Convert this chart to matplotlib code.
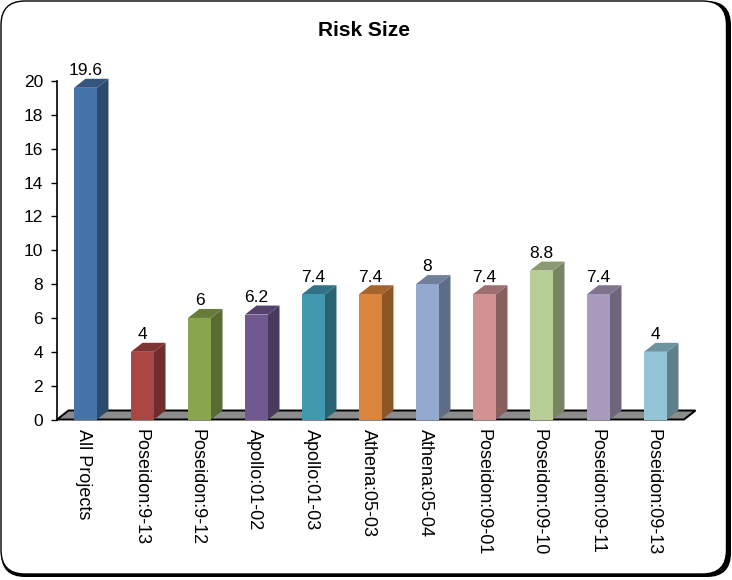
import matplotlib
matplotlib.use("Agg")
import matplotlib.pyplot as plt
from matplotlib.patches import FancyBboxPatch, Polygon
from matplotlib.transforms import ScaledTranslation

plt.rcParams['font.family'] = ['Liberation Sans', 'DejaVu Sans']

categories = ["All Projects", "Poseidon:9-13", "Poseidon:9-12", "Apollo:01-02", "Apollo:01-03",
              "Athena:05-03", "Athena:05-04", "Poseidon:09-01", "Poseidon:09-10", "Poseidon:09-11",
              "Poseidon:09-13"]
values = [19.6, 4, 6, 6.2, 7.4, 7.4, 8, 7.4, 8.8, 7.4, 4]
value_labels = ["19.6", "4", "6", "6.2", "7.4", "7.4", "8", "7.4", "8.8", "7.4", "4"]
front_colors = ["#4572A7", "#AA4643", "#89A54E", "#71588F", "#4198AF", "#DB843D",
                "#93A9CF", "#D19392", "#B9CD96", "#A99BBD", "#92C5D5"]
side_colors = ["#2C4A6E", "#6F2D2B", "#596B32", "#49395D", "#2A6372", "#8E5627",
               "#5F6E87", "#885F5F", "#788562", "#6E657B", "#5F808B"]
top_colors = ["#35557F", "#803533", "#677C3B", "#55426C", "#317284", "#A5632E",
              "#6F7F9C", "#9E6F6E", "#8B9A71", "#7F748E", "#6E94A0"]
yticks = list(range(0, 21, 2))

W, H = 732, 580
fig = plt.figure(figsize=(W / 100, H / 100), dpi=100, facecolor="white")

# rounded frame with heavy lower-right shadow
bg = fig.add_axes([0, 0, 1, 1], zorder=0)
bg.set_xlim(0, W); bg.set_ylim(H, 0); bg.axis("off")
R = 24
bg.add_patch(FancyBboxPatch((1 + R, 1 + R), W - 2 - 2 * R, H - 4 - 2 * R,
                            boxstyle=f"round,pad={R},rounding_size={R}",
                            fc="black", ec="black", lw=0))
bg.add_patch(FancyBboxPatch((1 + R, 1 + R), W - 6.5 - 2 * R, H - 7 - 2 * R,
                            boxstyle=f"round,pad={R},rounding_size={R}",
                            fc="white", ec="black", lw=1.0))

# plot area: 57..684 px wide, 81..419.5 px tall
left, right, top, bottom = 57, 684, 81, 419.5
ax = fig.add_axes([left / W, 1 - bottom / H, (right - left) / W, (bottom - top) / H], zorder=1)
ax.set_xlim(-0.5, 10.5)
ax.set_ylim(0, 20)
ax.patch.set_alpha(0)

dx = 11.5 / 57          # depth, category units
dy = 9 / ((bottom - top) / 20)  # depth, value units
half = 11.5 / 57

# floor
ax.add_patch(Polygon([(-0.5, 0), (10.5, 0), (10.5 + dx, dy), (-0.5 + dx, dy)],
                     closed=True, fc="#8C8C8C", ec="black", lw=1.4, clip_on=False, zorder=1))

for i, (v, lab) in enumerate(zip(values, value_labels)):
    x0, x1 = i - half, i + half
    ax.bar(i, v, width=2 * half, color=front_colors[i], edgecolor="none", zorder=3, clip_on=False)
    ax.add_patch(Polygon([(x1, 0), (x1 + dx, dy), (x1 + dx, v + dy), (x1, v)], closed=True,
                         fc=side_colors[i], ec="none", zorder=2.5, clip_on=False))
    ax.add_patch(Polygon([(x0, v), (x1, v), (x1 + dx, v + dy), (x0 + dx, v + dy)], closed=True,
                         fc=top_colors[i], ec="none", zorder=2.5, clip_on=False))
    ax.annotate(lab, (i, v + dy), xytext=(0, 0.5), textcoords="offset points", ha="center",
                va="bottom", fontsize=12.5, color="black", zorder=5, annotation_clip=False)

for s in ("top", "right", "bottom"):
    ax.spines[s].set_visible(False)
ax.spines["left"].set_linewidth(1.2)
ax.set_yticks(yticks)
ax.tick_params(axis="y", length=4, width=1.0, labelsize=12.5, pad=6, color="black")
ax.set_xticks(range(len(categories)))
ax.set_xticklabels(categories, rotation=-90, ha="center", va="top", fontsize=13)
ax.tick_params(axis="x", length=0, pad=7)
shift = ScaledTranslation(-2 / 100, 0, fig.dpi_scale_trans)
for t in ax.get_xticklabels():
    t.set_transform(t.get_transform() + shift)

fig.text(364 / W, 1 - 30 / H, "Risk Size", ha="center", va="center", fontsize=15,
         fontweight="bold", color="black", zorder=3)

fig.savefig("out.png", dpi=100, facecolor="white")
